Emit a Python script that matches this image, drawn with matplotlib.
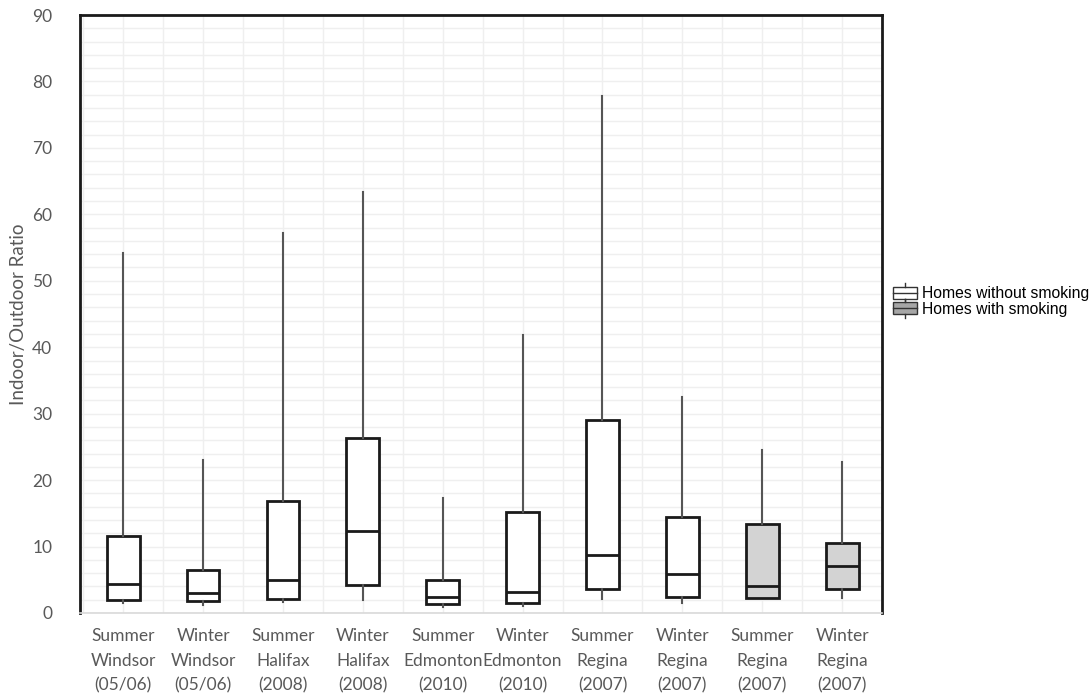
import numpy as np
import matplotlib.pyplot as plt
from matplotlib.legend_handler import HandlerBase
from matplotlib.patches import Rectangle
from matplotlib.lines import Line2D

plt.rcParams['font.family'] = ['Lato', 'DejaVu Sans']

categorias = ['Summer\nWindsor\n(05/06)', 'Winter\nWindsor\n(05/06)', 'Summer\nHalifax\n(2008)',
              'Winter\nHalifax\n(2008)', 'Summer\nEdmonton\n(2010)', 'Winter\nEdmonton\n(2010)',
              'Summer\nRegina\n(2007)', 'Winter\nRegina\n(2007)', 'Summer\nRegina\n(2007)',
              'Winter\nRegina\n(2007)']
bigode_baixo = [1.5, 1.2, 1.7, 2.0, 0.9, 1.1, 2.1, 1.5, 2.3, 2.3]
q1 = [1.9, 1.8, 2.1, 4.2, 1.4, 1.5, 3.6, 2.4, 2.3, 3.6]
mediana = [4.4, 3.0, 5.0, 12.3, 2.4, 3.2, 8.7, 5.9, 4.1, 7.0]
q3 = [11.6, 6.5, 16.8, 26.3, 5.0, 15.2, 29.0, 14.5, 13.4, 10.6]
bigode_alto = [54.2, 23.0, 57.2, 63.3, 17.3, 41.8, 77.8, 32.5, 24.5, 22.7]
fumante = [False] * 8 + [True] * 2

stats = []
for i in range(len(categorias)):
    stats.append({'whislo': bigode_baixo[i], 'q1': q1[i], 'med': mediana[i],
                  'q3': q3[i], 'whishi': bigode_alto[i], 'fliers': []})

fig = plt.figure(figsize=(10.89, 6.96), dpi=100)
ax = fig.add_axes([0.0735, 0.1193, 0.7365, 0.8591])

pos = np.arange(1, len(categorias) + 1)
bp = ax.bxp(stats, positions=pos, widths=0.41, showcaps=False, showfliers=False,
            patch_artist=True,
            boxprops=dict(edgecolor='#1a1a1a', linewidth=2),
            medianprops=dict(color='#1a1a1a', linewidth=2),
            whiskerprops=dict(color='#555555', linewidth=1.5),
            zorder=3)
for caixa, f in zip(bp['boxes'], fumante):
    caixa.set_facecolor('#d3d3d3' if f else 'white')

ax.set_xlim(0.46, 10.5)
ax.set_ylim(0, 90)
ax.set_yticks(np.arange(0, 91, 10))
ax.set_yticks(np.arange(0, 91, 2), minor=True)
ax.set_xticks(pos)
ax.set_xticks(np.arange(0.5, 10.6, 0.5), minor=True)
ax.set_xticklabels(categorias, fontsize=12.5, color='#595959', linespacing=1.65)
ax.tick_params(axis='y', labelsize=12.5, labelcolor='#595959', length=0, pad=20)
ax.tick_params(axis='x', length=0, pad=11)
ax.tick_params(which='minor', length=0)
ax.grid(True, which='both', color='#efefef', linewidth=1, zorder=0)
ax.set_axisbelow(True)

for lado in ['top', 'left', 'right']:
    ax.spines[lado].set_color('#1a1a1a')
    ax.spines[lado].set_linewidth(2)
ax.spines['bottom'].set_color('#d9d9d9')
ax.spines['bottom'].set_linewidth(1.2)

ax.set_ylabel('Indoor/Outdoor Ratio', fontsize=13.5, color='#595959', labelpad=4)


class CaixaLegenda(HandlerBase):
    def create_artists(self, legend, orig_handle, xdescent, ydescent, width, height, fontsize, trans):
        cx = width / 2 - xdescent
        r = Rectangle((-xdescent, -ydescent + height * 0.05), width, height * 0.9,
                      facecolor=orig_handle.get_facecolor(), edgecolor='#333333',
                      linewidth=1, transform=trans)
        m = Line2D([-xdescent, width - xdescent], [height / 2 - ydescent] * 2,
                   color='#333333', linewidth=1, transform=trans)
        w1 = Line2D([cx, cx], [-ydescent - height * 0.2, -ydescent + height * 0.05],
                    color='#333333', linewidth=1, transform=trans)
        w2 = Line2D([cx, cx], [-ydescent + height * 0.95, -ydescent + height * 1.2],
                    color='#333333', linewidth=1, transform=trans)
        return [r, m, w1, w2]


h1 = Rectangle((0, 0), 1, 1, facecolor='white')
h2 = Rectangle((0, 0), 1, 1, facecolor='#a6a6a6')
fig.legend([h1, h2], ['Homes without smoking', 'Homes with smoking'],
           handler_map={Rectangle: CaixaLegenda()},
           loc='center left', bbox_to_anchor=(0.82, 0.567), frameon=False,
           prop={'family': 'Liberation Sans', 'size': 11.3},
           handlelength=1.5, handleheight=0.95, handletextpad=0.35,
           labelspacing=0.0, borderaxespad=0, borderpad=0)

fig.savefig('out.png', dpi=100)
